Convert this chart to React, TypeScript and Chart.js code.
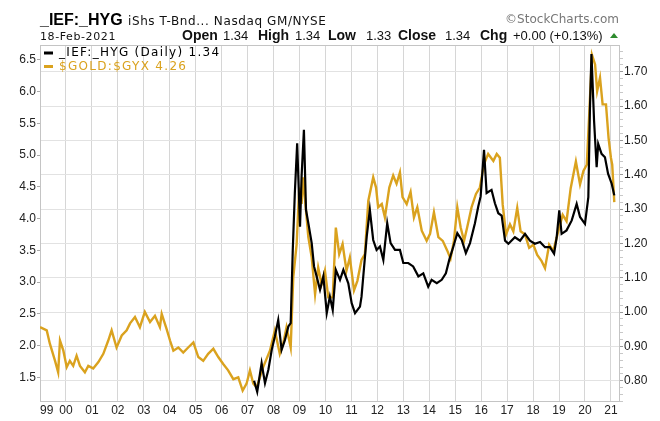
import React, { useEffect, useRef } from "react";
import { Chart, registerables } from "chart.js";
Chart.register(...registerables);

// ---- data (fractional years) ----
const goldDates = [
  1999.0, 1999.26, 1999.38, 1999.58, 1999.7, 1999.77, 1999.9, 2000.03, 2000.15, 2000.28, 2000.41, 2000.54,
  2000.73, 2000.86, 2001.05, 2001.25, 2001.44, 2001.63, 2001.76, 2001.95, 2002.15, 2002.34, 2002.47, 2002.66,
  2002.85, 2003.04, 2003.24, 2003.43, 2003.62, 2003.69, 2003.88, 2004.01, 2004.14, 2004.33, 2004.52, 2004.71,
  2004.91, 2005.1, 2005.29, 2005.48, 2005.68, 2005.87, 2006.06, 2006.25, 2006.45, 2006.64, 2006.81, 2006.96,
  2007.09, 2007.22, 2007.35, 2007.6, 2007.86, 2008.05, 2008.24, 2008.37, 2008.5, 2008.66, 2008.76, 2008.89,
  2008.99, 2009.08, 2009.14, 2009.25, 2009.34, 2009.47, 2009.6, 2009.72, 2009.85, 2009.98, 2010.11, 2010.28,
  2010.4, 2010.53, 2010.66, 2010.81, 2010.94, 2011.1, 2011.23, 2011.39, 2011.52, 2011.65, 2011.84, 2011.95,
  2012.03, 2012.17, 2012.29, 2012.46, 2012.61, 2012.74, 2012.87, 2012.97, 2013.13, 2013.28, 2013.41, 2013.54,
  2013.71, 2013.9, 2014.03, 2014.18, 2014.35, 2014.52, 2014.69, 2014.82, 2014.95, 2015.08, 2015.21, 2015.34,
  2015.46, 2015.63, 2015.8, 2015.95, 2016.11, 2016.27, 2016.47, 2016.6, 2016.72, 2016.83, 2016.96, 2017.11,
  2017.24, 2017.39, 2017.52, 2017.69, 2017.85, 2018.01, 2018.16, 2018.33, 2018.46, 2018.62, 2018.78, 2018.97,
  2019.14, 2019.29, 2019.45, 2019.65, 2019.81, 2019.94, 2020.07, 2020.17, 2020.27, 2020.39, 2020.47, 2020.58,
  2020.68, 2020.81, 2020.91, 2021.0, 2021.05, 2021.13,
];
const goldValues = [
  2.29, 2.24, 2.03, 1.76, 1.58, 2.08, 1.92, 1.66, 1.76, 1.68, 1.84, 1.68,
  1.58, 1.68, 1.64, 1.74, 1.87, 2.08, 2.24, 1.97, 2.16, 2.24, 2.35, 2.45,
  2.29, 2.53, 2.37, 2.47, 2.29, 2.5, 2.26, 2.08, 1.92, 1.97, 1.89, 1.97,
  2.05, 1.82, 1.76, 1.87, 1.95, 1.82, 1.71, 1.61, 1.47, 1.5, 1.29, 1.4,
  1.61, 1.4, 1.34, 1.66, 1.92, 2.24, 1.87, 2.03, 2.29, 1.97, 3.08, 3.6,
  4.49, 4.23, 4.65, 4.13, 3.71, 3.39, 2.81, 3.23, 2.97, 3.18, 2.76, 2.76,
  3.86, 3.44, 3.6, 3.18, 3.39, 2.87, 3.02, 3.35, 3.44, 4.28, 4.65, 4.49,
  4.18, 4.23, 4.02, 4.49, 4.68, 4.55, 4.73, 4.34, 4.23, 4.42, 4.02, 4.18,
  3.81, 3.65, 3.76, 4.1, 3.71, 3.65, 3.5, 3.37, 3.65, 4.18, 3.86, 3.65,
  3.86, 4.18, 4.39, 4.49, 4.86, 5.02, 4.91, 5.02, 4.96, 4.22, 3.75, 3.91,
  3.8, 4.17, 3.8, 3.75, 3.54, 3.59, 3.43, 3.33, 3.22, 3.59, 3.49, 3.8,
  4.06, 3.96, 4.48, 4.9, 4.54, 4.75, 4.85, 5.69, 6.58, 6.43, 6.01, 6.22,
  5.8, 5.8, 5.27, 4.96, 4.85, 4.26,
];

const ratioDates = [
  2007.25, 2007.37, 2007.54, 2007.67, 2007.8, 2007.93, 2008.05, 2008.18, 2008.31, 2008.44, 2008.57, 2008.66,
  2008.74, 2008.82, 2008.91, 2009.02, 2009.08, 2009.17, 2009.25, 2009.34, 2009.47, 2009.56, 2009.66, 2009.79,
  2009.92, 2010.05, 2010.17, 2010.28, 2010.4, 2010.56, 2010.69, 2010.88, 2011.01, 2011.14, 2011.33, 2011.39,
  2011.59, 2011.71, 2011.84, 2011.97, 2012.1, 2012.23, 2012.38, 2012.51, 2012.68, 2012.87, 2013.0, 2013.19,
  2013.38, 2013.58, 2013.77, 2013.96, 2014.09, 2014.29, 2014.48, 2014.64, 2014.77, 2014.93, 2015.08, 2015.25,
  2015.41, 2015.57, 2015.76, 2015.89, 2015.98, 2016.11, 2016.21, 2016.4, 2016.53, 2016.66, 2016.79, 2016.92,
  2017.05, 2017.3, 2017.5, 2017.69, 2017.88, 2018.07, 2018.27, 2018.46, 2018.65, 2018.81, 2018.91, 2019.01,
  2019.1, 2019.29, 2019.49, 2019.68, 2019.81, 2020.0, 2020.13, 2020.19, 2020.25, 2020.35, 2020.45, 2020.51,
  2020.64, 2020.77, 2020.89, 2021.03, 2021.13,
];
const ratioValues = [
  0.8, 0.768, 0.851, 0.793, 0.832, 0.89, 0.929, 0.977, 0.89, 0.919, 0.958, 0.968,
  1.181, 1.347, 1.492, 1.249, 1.395, 1.531, 1.298, 1.259, 1.201, 1.133, 1.104, 1.065,
  1.104, 0.997, 1.045, 1.006, 1.123, 1.094, 1.123, 1.084, 1.026, 0.997, 1.016, 1.045,
  1.22, 1.298, 1.21, 1.181, 1.191, 1.152, 1.259, 1.201, 1.181, 1.181, 1.143, 1.143,
  1.133, 1.104, 1.113, 1.074, 1.094, 1.084, 1.094, 1.113, 1.152, 1.191, 1.23, 1.21,
  1.172, 1.201, 1.259, 1.308, 1.337, 1.473, 1.347, 1.356, 1.317, 1.288, 1.281, 1.208,
  1.199, 1.218, 1.208, 1.228, 1.208, 1.199, 1.204, 1.189, 1.189, 1.17, 1.218, 1.296,
  1.228, 1.238, 1.267, 1.315, 1.277, 1.257, 1.335, 1.587, 1.752, 1.558, 1.422, 1.49,
  1.461, 1.451, 1.403, 1.374, 1.34,
];

const yearTicks = [
  1999, 2000, 2001, 2002, 2003, 2004, 2005, 2006, 2007, 2008, 2009, 2010,
  2011, 2012, 2013, 2014, 2015, 2016, 2017, 2018, 2019, 2020, 2021,
];
const yearLabels = [
  "99", "00", "01", "02", "03", "04", "05", "06", "07", "08", "09", "10",
  "11", "12", "13", "14", "15", "16", "17", "18", "19", "20", "21",
];
const leftTicks = [1.5, 2.0, 2.5, 3.0, 3.5, 4.0, 4.5, 5.0, 5.5, 6.0, 6.5];
const leftLabels = ["1.5", "2.0", "2.5", "3.0", "3.5", "4.0", "4.5", "5.0", "5.5", "6.0", "6.5"];
const rightTicks = [0.8, 0.9, 1.0, 1.1, 1.2, 1.3, 1.4, 1.5, 1.6, 1.7];
const rightLabels = ["0.80", "0.90", "1.00", "1.10", "1.20", "1.30", "1.40", "1.50", "1.60", "1.70"];

const ratioLegend = "_IEF:_HYG (Daily) 1.34";
const goldLegend = "$GOLD:$GYX 4.26";

const GOLD = "#DAA21E";
const SANS = "'Liberation Sans', Arial, sans-serif";
const VSANS = "'DejaVu Sans', Verdana, sans-serif";

const overlay = {
  id: "overlay",
  beforeDatasetsDraw(chart: any) {
    const { ctx, chartArea: a } = chart;
    ctx.save();
    ctx.strokeStyle = "#c4c4c4";
    ctx.lineWidth = 1;
    ctx.strokeRect(Math.round(a.left) + 0.5, Math.round(a.top) + 0.5, Math.round(a.right - a.left) - 1, Math.round(a.bottom - a.top));
    ctx.restore();
  },
  afterDraw(chart: any) {
    const { ctx, chartArea: a } = chart;
    const xs = chart.scales.x;
    ctx.save();
    // x labels
    ctx.font = `12px ${SANS}`;
    ctx.fillStyle = "#222";
    ctx.textBaseline = "middle";
    yearTicks.forEach((yr, i) => {
      const px = xs.getPixelForValue(yr);
      const w = ctx.measureText(yearLabels[i]).width;
      let left = px - w / 2;
      if (left < a.left) left = a.left;
      if (left + w > a.right) left = a.right - w;
      ctx.textAlign = "left";
      ctx.fillText(yearLabels[i], left, a.bottom + 10);
    });

    // header
    const setLS = (v: string) => { try { (ctx as any).letterSpacing = v; } catch (e) {} };
    ctx.textBaseline = "alphabetic";
    ctx.textAlign = "left";
    ctx.fillStyle = "#000";
    ctx.font = `bold 16px ${SANS}`;
    ctx.fillText("_IEF:_HYG", 40, 25);
    ctx.font = `12px ${VSANS}`;
    ctx.fillStyle = "#111";
    setLS("0.6px");
    ctx.fillText("iShs T-Bnd... Nasdaq GM/NYSE", 128, 25);
    ctx.font = `11px ${VSANS}`;
    setLS("0.6px");
    ctx.fillText("18-Feb-2021", 40, 40);
    setLS("0px");
    ctx.fillStyle = "#777";
    ctx.font = `12px ${VSANS}`;
    ctx.textAlign = "right";
    ctx.fillText("\u00A9StockCharts.com", 619, 23);
    ctx.textAlign = "left";
    const row: [string, number, boolean][] = [
      ["Open", 182, true], ["1.34", 223, false], ["High", 258, true], ["1.34", 295, false],
      ["Low", 328, true], ["1.33", 366, false], ["Close", 398, true], ["1.34", 445, false],
      ["Chg", 480, true], ["+0.00 (+0.13%)", 513, false],
    ];
    row.forEach(([t, x, b]) => {
      ctx.fillStyle = "#111";
      ctx.font = b ? `bold 14px ${SANS}` : `13px ${SANS}`;
      ctx.fillText(t, x, 40);
    });
    ctx.fillStyle = "#2e8b2e";
    ctx.beginPath();
    ctx.moveTo(610, 38);
    ctx.lineTo(618, 38);
    ctx.lineTo(614, 33);
    ctx.closePath();
    ctx.fill();

    // legend
    ctx.font = `12px ${VSANS}`;
    ctx.textBaseline = "middle";
    setLS("1.3px");
    ctx.lineWidth = 3;
    ctx.strokeStyle = "#000";
    ctx.beginPath(); ctx.moveTo(44, 53); ctx.lineTo(53, 53); ctx.stroke();
    ctx.fillStyle = "#000";
    ctx.fillText(ratioLegend, 59, 53);
    ctx.strokeStyle = GOLD;
    ctx.beginPath(); ctx.moveTo(44, 66.5); ctx.lineTo(53, 66.5); ctx.stroke();
    ctx.fillStyle = GOLD;
    ctx.fillText(goldLegend, 59, 66.5);
    setLS("0px");
    ctx.restore();
  },
};

export default function App() {
  const ref = useRef<HTMLCanvasElement>(null);
  useEffect(() => {
    document.body.style.margin = "0";
    const ratio = ratioDates.map((d, i) => ({ x: d, y: ratioValues[i] }));
    const gold = goldDates.map((d, i) => ({ x: d, y: goldValues[i] }));
    const minorRight: number[] = [];
    for (let k = 37; k <= 88; k++) minorRight.push(k / 50);
    const isMajorRight = (v: number) => rightTicks.some((t) => Math.abs(t - v) < 1e-6);
    const chart = new Chart(ref.current as HTMLCanvasElement, {
      type: "line",
      data: {
        datasets: [
          { label: ratioLegend, data: ratio, yAxisID: "yR", borderColor: "#000", borderWidth: 2.2, pointRadius: 0, tension: 0 },
          { label: goldLegend, data: gold, yAxisID: "yL", borderColor: GOLD, borderWidth: 2.4, pointRadius: 0, tension: 0 },
        ],
      },
      options: {
        responsive: false,
        animation: false,
        events: [],
        layout: { padding: { top: 45, left: 0, right: 0, bottom: 0 } },
        plugins: { legend: { display: false }, tooltip: { enabled: false } },
        scales: {
          x: {
            type: "linear",
            min: 1999,
            max: 2021.35,
            afterBuildTicks: (s: any) => { s.ticks = yearTicks.map((v) => ({ value: v })); },
            ticks: { display: false },
            grid: { color: "#d6d6d6", drawTicks: false },
            border: { display: false },
            afterFit: (s: any) => { s.height = 20; },
          },
          yL: {
            type: "linear",
            position: "left",
            min: 1.127,
            max: 6.736,
            afterBuildTicks: (s: any) => { s.ticks = leftTicks.map((v) => ({ value: v })); },
            ticks: {
              callback: (v: any) => { const i = leftTicks.findIndex((t) => Math.abs(t - v) < 1e-6); return i >= 0 ? leftLabels[i] : ""; },
              font: { family: SANS, size: 12 },
              color: "#222",
              padding: 1,
            },
            grid: { drawOnChartArea: false, tickLength: 3, tickColor: "#aaa" },
            border: { display: false },
            afterFit: (s: any) => { s.width = 40; },
          },
          yR: {
            type: "linear",
            position: "right",
            min: 0.741,
            max: 1.778,
            afterBuildTicks: (s: any) => { s.ticks = minorRight.map((v) => ({ value: v })); },
            ticks: {
              autoSkip: false,
              callback: (v: any) => { const i = rightTicks.findIndex((t) => Math.abs(t - v) < 1e-6); return i >= 0 ? rightLabels[i] : ""; },
              font: { family: SANS, size: 12 },
              color: "#222",
              padding: 1,
            },
            grid: {
              color: (c: any) => (c.tick && isMajorRight(c.tick.value) ? "#e2e2e2" : "rgba(0,0,0,0)"),
              tickColor: (c: any) => (c.tick && isMajorRight(c.tick.value) ? "#999" : "#c8c8c8"),
              tickLength: 3,
            },
            border: { display: false },
            afterFit: (s: any) => { s.width = 40; },
          },
        },
      },
      plugins: [overlay],
    });
    return () => chart.destroy();
  }, []);
  return <canvas ref={ref} width={660} height={421} style={{ display: "block" }} />;
}
